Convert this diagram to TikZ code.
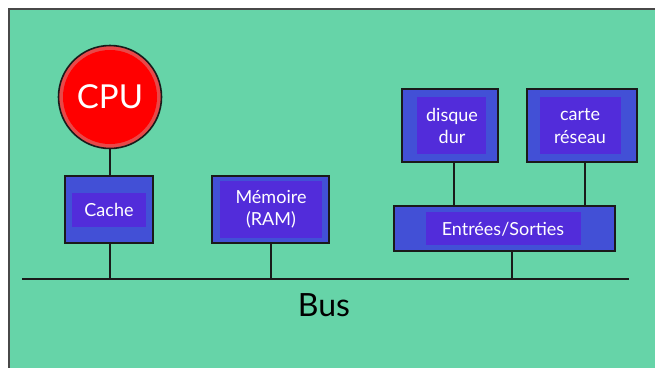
\documentclass[tikz,border=0pt]{standalone}
\usepackage{fontspec}
\setmainfont{Lato}
\definecolor{board}{HTML}{66D4A8}
\definecolor{boxblue}{HTML}{4250D6}
\definecolor{labelviolet}{HTML}{522CDA}
\definecolor{cpured}{HTML}{FF0000}
\definecolor{cpurim}{HTML}{E84848}
\definecolor{edge}{HTML}{1A1A1A}
\tikzset{
  unit/.style={draw=edge, line width=1.8pt, fill=boxblue},
  tag/.style={fill=labelviolet},
  tagtext/.style={text=white, font=\fontsize{18}{22.5}\selectfont, align=center},
  wire/.style={draw=edge, line width=1.8pt},
}
\begin{document}
\begin{tikzpicture}[x=1pt, y=-1pt]
\useasboundingbox (0,0) rectangle (655,367);
% board
\fill[white] (0,0) rectangle (655,367);
\draw[fill=board, draw=edge!80, line width=1.8pt] (9,9) rectangle (662,374);

% CPU
\fill[cpurim, draw=edge, line width=1.6pt] (110,97) circle (51.5);
\fill[cpured] (110,97) circle (47);
\node[text=white, font=\fontsize{33}{35}\selectfont] (cpu) at (110,97) {CPU};
\coordinate (cpub) at (110,148.5);

% Cache
\draw[unit] (65,176) rectangle (153,243);
\fill[tag] (72,193) rectangle (146,227);
\node[tagtext] (cache) at (109,210) {Cache};
\coordinate (cachet) at (110,176);
\coordinate (cacheb) at (110,243);

% Memory
\draw[unit] (212,176) rectangle (329,243);
\fill[tag] (220,181) rectangle (322,238);
\node[tagtext] (mem) at (271,209) {Mémoire\\(RAM)};
\coordinate (memb) at (271,243);

% Disk
\draw[unit] (402,89) rectangle (498,162);
\fill[tag] (417,97) rectangle (486,154);
\node[tagtext] (disk) at (452,126) {disque\\dur};
\coordinate (diskb) at (454,162);

% Network card
\draw[unit] (527,89) rectangle (637,162);
\fill[tag] (540,97) rectangle (621,154);
\node[tagtext] (net) at (580,126) {carte\\réseau};
\coordinate (netb) at (585,162);

% I/O
\draw[unit] (394,206) rectangle (615,251);
\fill[tag] (426,212) rectangle (581,245);
\node[tagtext] (io) at (503,229) {Entrées/Sorties};
\coordinate (iodt) at (454,206);
\coordinate (iont) at (585,206);
\coordinate (iob) at (512,251);

% Bus
\coordinate (busl) at (22,279);
\coordinate (busr) at (629,279);
\coordinate (bcache) at (110,279);
\coordinate (bmem) at (271,279);
\coordinate (bio) at (512,279);
\draw[wire] (busl) -- (busr);
\node[font=\fontsize{32}{34}\selectfont] (bus) at (324,305) {Bus};

% connectors
\draw[wire] (cpub) -- (cachet);
\draw[wire] (cacheb) -- (bcache);
\draw[wire] (memb) -- (bmem);
\draw[wire] (iob) -- (bio);
\draw[wire] (diskb) -- (iodt);
\draw[wire] (netb) -- (iont);
\end{tikzpicture}
\end{document}
